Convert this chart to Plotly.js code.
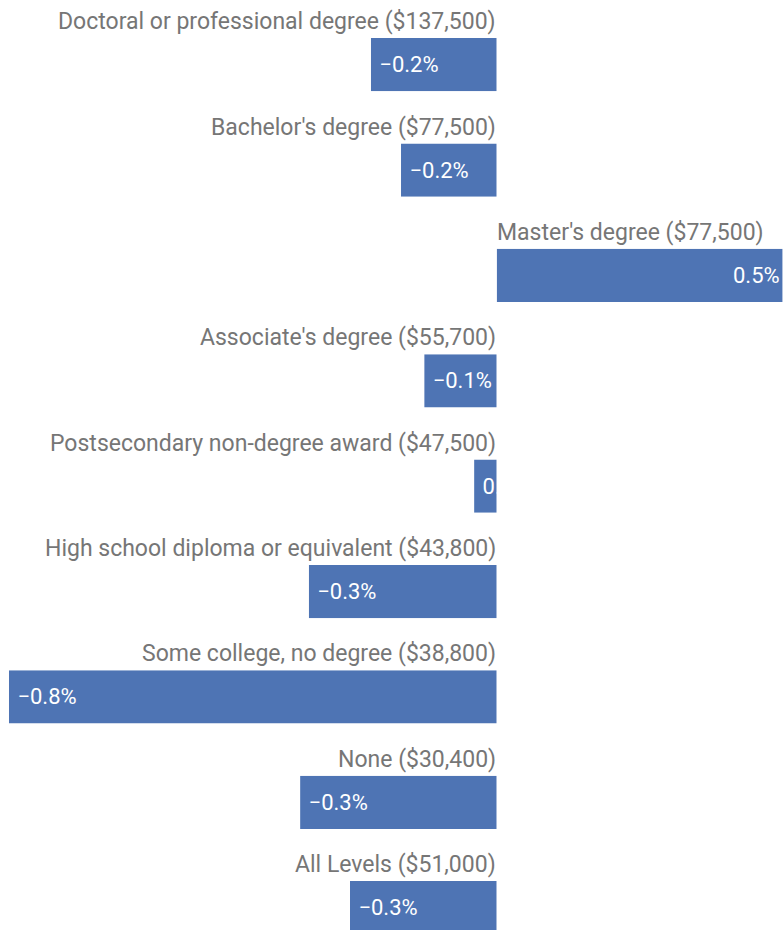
<!DOCTYPE html>
<html>
<head>
<meta charset="utf-8">
<script src="https://cdn.plot.ly/plotly-3.0.1.min.js"></script>
<style>
  html, body { margin: 0; padding: 0; background: #ffffff; }
  #chart { width: 783px; height: 930px; }
</style>
</head>
<body>
<div id="chart"></div>
<script>
const categories = [
  "Doctoral or professional degree",
  "Bachelor's degree",
  "Master's degree",
  "Associate's degree",
  "Postsecondary non-degree award",
  "High school diploma or equivalent",
  "Some college, no degree",
  "None",
  "All Levels"
];
const medianWages = ["$137,500", "$77,500", "$77,500", "$55,700", "$47,500", "$43,800", "$38,800", "$30,400", "$51,000"];
const changes = [-0.217, -0.165, 0.493, -0.125, -0.039, -0.324, -0.841, -0.339, -0.253];
const changeLabels = ["−0.2%", "−0.2%", "0.5%", "−0.1%", "0.0%", "−0.3%", "−0.8%", "−0.3%", "−0.3%"];

const BAR_COLOR = "#4e74b4";
const LABEL_COLOR = "#767676";
const FONT = "Roboto, 'Noto Sans', Arial, sans-serif";

const trace = {
  type: "bar",
  orientation: "h",
  y: categories,
  x: changes,
  width: 0.506,
  marker: { color: BAR_COLOR, line: { width: 0 } },
  text: changeLabels,
  texttemplate: changes.map(v => v < 0 ? "\u00a0%{text}" : "%{text}"),
  textposition: "inside",
  insidetextanchor: "end",
  constraintext: "none",
  textangle: 0,
  textfont: { family: FONT, size: 22, color: "#ffffff" },
  hoverinfo: "none",
  cliponaxis: true
};

const annotations = categories.map((c, i) => ({
  x: 0,
  y: c,
  xref: "x",
  yref: "y",
  text: c + " (" + medianWages[i] + ")",
  showarrow: false,
  xanchor: changes[i] < 0 ? "right" : "left",
  yanchor: "middle",
  yshift: 43,
  xshift: changes[i] < 0 ? 1 : -2,
  font: { family: FONT, size: 23, color: LABEL_COLOR }
}));

const layout = {
  width: 783,
  height: 930,
  margin: { l: 0, r: 0, t: 0, b: 0, pad: 0 },
  paper_bgcolor: "#ffffff",
  plot_bgcolor: "#ffffff",
  showlegend: false,
  xaxis: {
    range: [-0.8564, 0.4936],
    showgrid: false, zeroline: false, showticklabels: false, showline: false, ticks: ""
  },
  yaxis: {
    type: "category",
    categoryorder: "array",
    categoryarray: categories,
    range: [8.212, -0.614],
    showgrid: false, zeroline: false, showticklabels: false, showline: false, ticks: ""
  },
  annotations: annotations
};

Plotly.newPlot("chart", [trace], layout, { staticPlot: true, displayModeBar: false }).then(gd => {
  // clip each bar's label to its own bar, so text that is longer than the bar is cut off
  const svg = gd.querySelector("svg.main-svg");
  let defs = svg.querySelector("defs");
  const ns = "http://www.w3.org/2000/svg";
  gd.querySelectorAll(".barlayer .point").forEach((pt, k) => {
    const path = pt.querySelector("path");
    if (!path) return;
    const bb = path.getBBox();
    const cp = document.createElementNS(ns, "clipPath");
    cp.setAttribute("id", "barclip" + k);
    const r = document.createElementNS(ns, "rect");
    r.setAttribute("x", bb.x);
    r.setAttribute("y", bb.y);
    r.setAttribute("width", bb.width);
    r.setAttribute("height", bb.height);
    cp.appendChild(r);
    defs.appendChild(cp);
    pt.setAttribute("clip-path", "url(#barclip" + k + ")");
  });
});
</script>
</body>
</html>
